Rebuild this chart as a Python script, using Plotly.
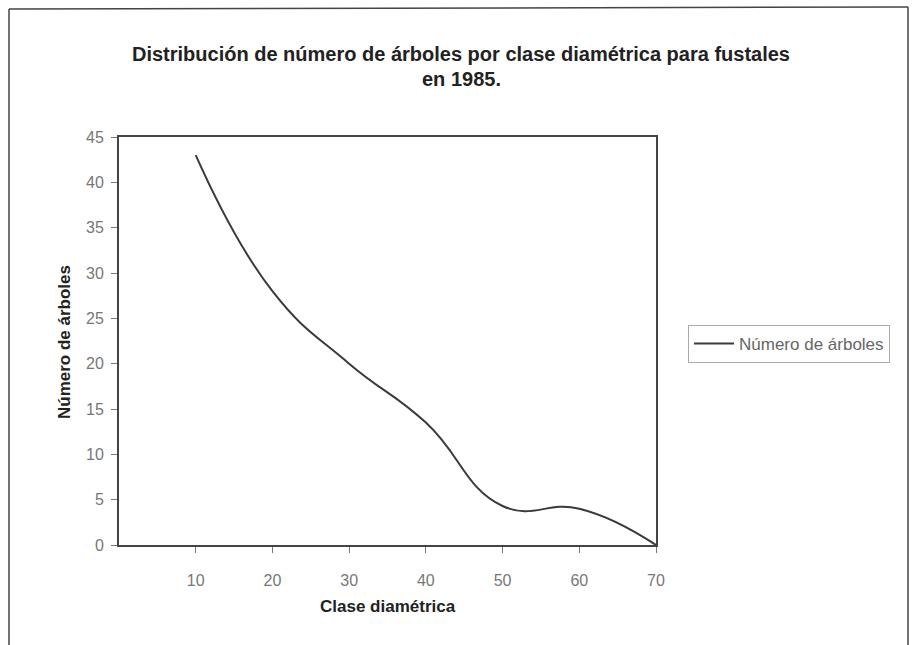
import plotly.graph_objects as go

clase = [10, 20, 30, 40, 50, 60, 70]
arboles = [43, 28, 20, 13.5, 4.3, 4, 0]
xticks = [10, 20, 30, 40, 50, 60, 70]
yticks = [0, 5, 10, 15, 20, 25, 30, 35, 40, 45]

W, H = 919, 645
L, R, T, B = 119, 656, 137, 545
pw, ph = R - L, B - T

def px(x):
    return (x - L) / pw

def py(y):
    return (B - y) / ph

fig = go.Figure()
fig.add_trace(go.Scatter(
    x=clase, y=arboles, mode="lines", name="Número de árboles",
    line=dict(color="#3a3a3a", width=2, shape="spline", smoothing=1.3),
))

font = "Liberation Sans, Arial, sans-serif"
fig.update_layout(
    width=W, height=H,
    margin=dict(l=L, r=W - R, t=T, b=H - B),
    paper_bgcolor="white", plot_bgcolor="white",
    font=dict(family=font, color="#555555", size=14),
    showlegend=True,
    legend=dict(
        x=px(688), y=py(344), xanchor="left", yanchor="middle",
        bordercolor="#aaaaaa", borderwidth=1, bgcolor="white",
        font=dict(family=font, size=17, color="#666666"),
        itemwidth=40, tracegroupgap=0,
    ),
    xaxis=dict(
        range=[0, 70], tickvals=xticks, ticks="outside", ticklen=6,
        tickcolor="#777777", showgrid=False, zeroline=False,
        showline=True, linecolor="#444444", linewidth=2, mirror=True,
        ticklabelstandoff=14, tickfont=dict(size=16, color="#777777"),
    ),
    yaxis=dict(
        range=[0, 45], tickvals=yticks, ticks="outside", ticklen=6,
        tickcolor="#777777", showgrid=False, zeroline=False,
        showline=True, linecolor="#444444", linewidth=2, mirror=True,
        ticklabelstandoff=4, tickfont=dict(size=16, color="#777777"),
    ),
)

fig.add_annotation(
    text="<b>Distribución de número de árboles por clase diamétrica para fustales</b>",
    xref="paper", yref="paper", x=px(461), y=py(54), showarrow=False,
    xanchor="center", yanchor="middle", font=dict(family=font, size=20, color="#222222"),
)
fig.add_annotation(
    text="<b>en 1985.</b>",
    xref="paper", yref="paper", x=px(461), y=py(79), showarrow=False,
    xanchor="center", yanchor="middle", font=dict(family=font, size=20, color="#222222"),
)
fig.add_annotation(
    text="<b>Clase diamétrica</b>",
    xref="paper", yref="paper", x=px(388), y=py(606), showarrow=False,
    xanchor="center", yanchor="middle", font=dict(family=font, size=17, color="#222222"),
)
fig.add_annotation(
    text="<b>Número de árboles</b>",
    xref="paper", yref="paper", x=px(64), y=py(342), showarrow=False, textangle=-90,
    xanchor="center", yanchor="middle", font=dict(family=font, size=17, color="#222222"),
)

# outer chart frame
fig.add_shape(type="line", xref="paper", yref="paper",
              x0=px(9), y0=py(9), x1=px(908), y1=py(7),
              line=dict(color="#444444", width=1.5))
fig.add_shape(type="line", xref="paper", yref="paper",
              x0=px(9), y0=py(9), x1=px(9), y1=py(650),
              line=dict(color="#444444", width=1.5))
fig.add_shape(type="line", xref="paper", yref="paper",
              x0=px(908), y0=py(7), x1=px(908), y1=py(650),
              line=dict(color="#444444", width=1.5))

fig.write_html("out.html")
